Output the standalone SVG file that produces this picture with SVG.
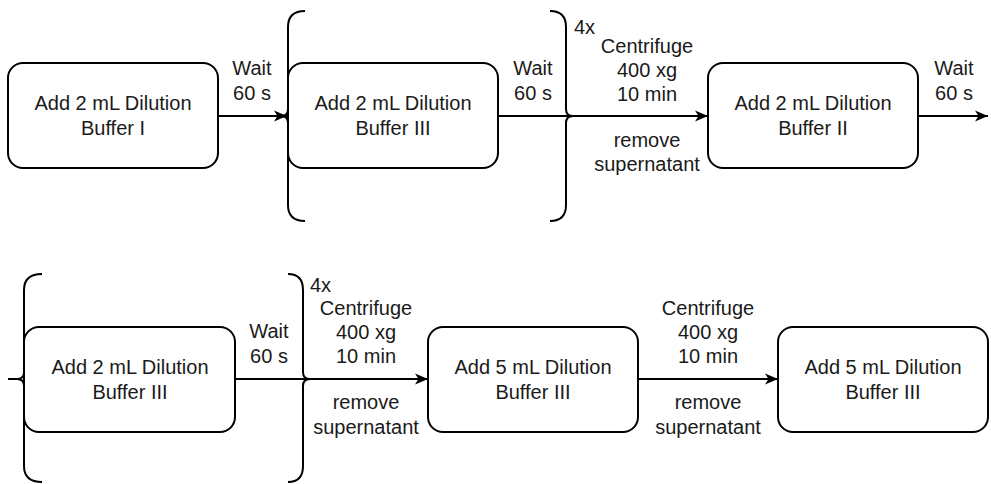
<svg xmlns="http://www.w3.org/2000/svg" width="991" height="484" viewBox="0 0 991 484">
<style>
.box{fill:#fff;stroke:#000;stroke-width:2}
.br{fill:none;stroke:#000;stroke-width:2}
.ln{fill:none;stroke:#000;stroke-width:2}
text{font-family:"Liberation Sans",Arial,sans-serif;font-size:20px;fill:#1a1a1a;text-anchor:middle}
.l{text-anchor:start}
</style>
<defs>
<marker id="ah" markerUnits="userSpaceOnUse" markerWidth="14" markerHeight="12" refX="13" refY="6" orient="auto">
<path d="M0,0.5 L13,6 L0,11.5 L3.5,6 z" fill="#000"/>
</marker>
</defs>
<rect width="991" height="484" fill="#fff"/>
<g id="connectors">
<path class="ln" d="M218,116 L287,116" marker-end="url(#ah)"/>
<path class="ln" d="M498,116 L566,116"/>
<path class="ln" d="M566,116 L708,116" marker-end="url(#ah)"/>
<path class="ln" d="M918,116 L988,116" marker-end="url(#ah)"/>
<path class="ln" d="M235,379 L303,379"/>
<path class="ln" d="M303,379 L428,379" marker-end="url(#ah)"/>
<path class="ln" d="M638,379 L778,379" marker-end="url(#ah)"/>
</g>
<g id="brace1-left"><path class="br" d="M305,11 Q288,11 288,27 L288,109 Q288,116 281,116 L272,116 M281,116 Q288,116 288,123 L288,205 Q288,221 305,221"/></g>
<g id="brace1-right"><path class="br" d="M550,11 Q566,11 566,27 L566,109 Q566,116 573,116 L582,116 M573,116 Q566,116 566,123 L566,205 Q566,221 550,221"/></g>
<g id="brace2-left"><path class="br" d="M42,274 Q24,274 24,290 L24,372 Q24,379 17,379 L8,379 M17,379 Q24,379 24,386 L24,466 Q24,482 42,482"/></g>
<g id="brace2-right"><path class="br" d="M288,274 Q303,274 303,290 L303,372 Q303,379 310,379 L318,379 M310,379 Q303,379 303,386 L303,466 Q303,482 288,482"/></g>
<g id="nodeA"><rect class="box" x="8" y="63" width="210" height="105" rx="15"/><text x="113" y="110">Add 2 mL Dilution</text><text x="113" y="135">Buffer I</text></g>
<g id="nodeB"><rect class="box" x="288" y="63" width="210" height="105" rx="15"/><text x="393" y="110">Add 2 mL Dilution</text><text x="393" y="135">Buffer III</text></g>
<g id="nodeC"><rect class="box" x="708" y="63" width="210" height="105" rx="15"/><text x="813" y="110">Add 2 mL Dilution</text><text x="813" y="135">Buffer II</text></g>
<g id="nodeD"><rect class="box" x="24" y="327" width="211" height="105" rx="15"/><text x="130" y="374">Add 2 mL Dilution</text><text x="130" y="399">Buffer III</text></g>
<g id="nodeE"><rect class="box" x="428" y="327" width="210" height="105" rx="15"/><text x="533" y="374">Add 5 mL Dilution</text><text x="533" y="399">Buffer III</text></g>
<g id="nodeF"><rect class="box" x="778" y="327" width="210" height="105" rx="15"/><text x="883" y="374">Add 5 mL Dilution</text><text x="883" y="399">Buffer III</text></g>
<g id="labels">
<text x="252" y="75">Wait</text><text x="252" y="100">60 s</text>
<text x="533" y="75">Wait</text><text x="533" y="100">60 s</text>
<text x="954" y="75">Wait</text><text x="954" y="100">60 s</text>
<text class="l" x="574" y="34">4x</text>
<text x="647" y="53">Centrifuge</text><text x="647" y="77">400 xg</text><text x="647" y="101">10 min</text>
<text x="647" y="147">remove</text><text x="647" y="171">supernatant</text>
<text x="269" y="338">Wait</text><text x="269" y="363">60 s</text>
<text class="l" x="310" y="292">4x</text>
<text x="366" y="315">Centrifuge</text><text x="366" y="339">400 xg</text><text x="366" y="363">10 min</text>
<text x="366" y="409">remove</text><text x="366" y="434">supernatant</text>
<text x="708" y="315">Centrifuge</text><text x="708" y="339">400 xg</text><text x="708" y="363">10 min</text>
<text x="708" y="409">remove</text><text x="708" y="434">supernatant</text>
</g>
</svg>
